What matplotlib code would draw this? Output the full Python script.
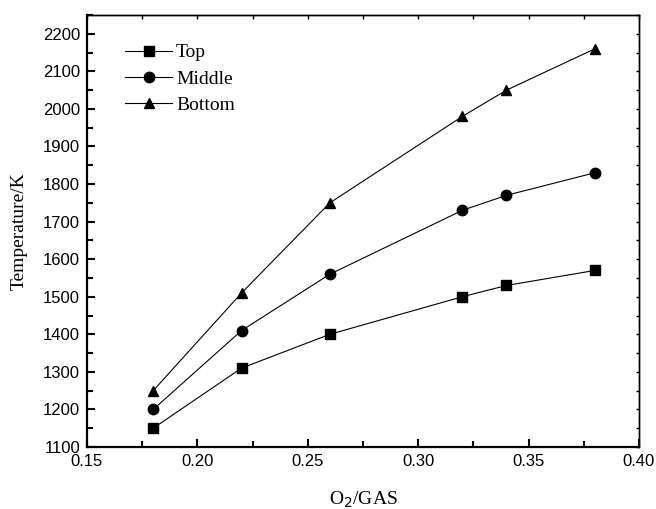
import matplotlib
matplotlib.use("Agg")
import matplotlib.pyplot as plt
from matplotlib.ticker import MultipleLocator

# Data
o2_gas = [0.18, 0.22, 0.26, 0.32, 0.34, 0.38]
temp_top = [1150, 1310, 1400, 1500, 1530, 1570]
temp_middle = [1200, 1410, 1560, 1730, 1770, 1830]
temp_bottom = [1250, 1510, 1750, 1980, 2050, 2160]

series_names = ["Top", "Middle", "Bottom"]
series_markers = ["s", "o", "^"]

serif = ["Liberation Serif", "DejaVu Serif"]
plt.rcParams["font.family"] = ["Liberation Sans", "DejaVu Sans"]

fig = plt.figure(figsize=(6.56, 5.09), dpi=100)
ax = fig.add_axes([0.1326, 0.1218, 0.8414, 0.8487])

for vals, name, mk in zip([temp_top, temp_middle, temp_bottom], series_names, series_markers):
    ax.plot(o2_gas, vals, color="black", lw=0.8, marker=mk, markersize=7.5,
            markerfacecolor="black", markeredgecolor="black", label=name)

ax.set_xlim(0.15, 0.40)
ax.set_ylim(1100, 2250)
ax.xaxis.set_major_locator(MultipleLocator(0.05))
ax.xaxis.set_minor_locator(MultipleLocator(0.025))
ax.set_yticks(range(1100, 2201, 100))
ax.yaxis.set_minor_locator(MultipleLocator(50))
ax.xaxis.set_major_formatter(plt.FuncFormatter(lambda v, p: f"{v:.2f}"))

ax.spines["left"].set_linewidth(1.6)
ax.spines["bottom"].set_linewidth(1.6)
ax.spines["top"].set_linewidth(1.0)
ax.spines["right"].set_linewidth(1.0)

ax.tick_params(which="both", direction="in", width=1.5, top=False, right=False,
               labelsize=12, pad=5)
ax.tick_params(which="major", length=6)
ax.tick_params(which="minor", length=4)

# short inward ticks on top and right, no labels
axt = ax.secondary_xaxis("top")
axt.spines["top"].set_linewidth(1.0)
axt.xaxis.set_major_locator(MultipleLocator(0.05))
axt.xaxis.set_minor_locator(MultipleLocator(0.025))
axt.tick_params(which="both", direction="in", width=1.0, length=3, labeltop=False)
axr = ax.secondary_yaxis("right")
axr.spines["right"].set_linewidth(1.0)
axr.yaxis.set_major_locator(MultipleLocator(100))
axr.yaxis.set_minor_locator(MultipleLocator(50))
axr.tick_params(which="both", direction="in", width=1.0, length=2.5, labelright=False)

ax.set_xlabel("O$_2$/GAS", family=serif, fontsize=14, labelpad=15)
ax.set_ylabel("Temperature/K", family=serif, fontsize=14, labelpad=11)

ax.legend(loc="upper left", bbox_to_anchor=(0.038, 0.974), frameon=False,
          prop={"family": serif, "size": 14}, handlelength=2.4,
          handletextpad=0.2, labelspacing=0.45)

fig.savefig("out.png", dpi=100)
